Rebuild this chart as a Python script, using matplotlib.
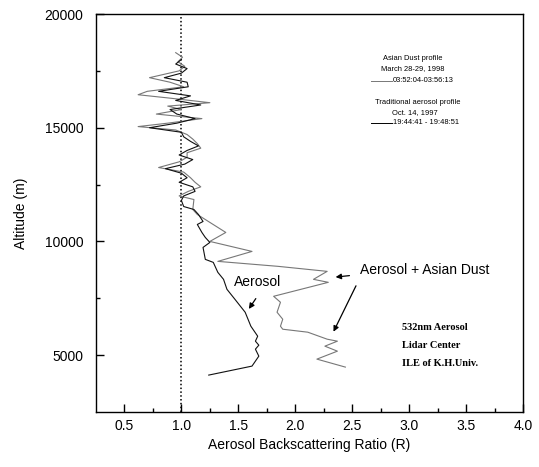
import matplotlib
matplotlib.use("Agg")
import matplotlib.pyplot as plt
from matplotlib.lines import Line2D

# ---- data ----
# Traditional aerosol profile (Oct. 14, 1997) - black
aerosol_alt = [18000, 17800, 17600, 17400, 17200, 17000, 16800, 16600, 16400, 16200,
               16000, 15800, 15600, 15400, 15200, 15000, 14800, 14600, 14400, 14200,
               14000, 13800, 13600, 13400, 13200, 13000, 12800, 12600, 12400, 12200,
               12000, 11800, 11535, 11404, 11184, 10877, 10746, 10395, 10175, 9956,
               9737, 9211, 9079, 8640, 8333, 7895, 7456, 6886, 6272, 5833,
               5614, 5438, 5263, 4956, 4518, 4123]
aerosol_r = [1.00, 0.95, 1.05, 1.00, 0.85, 1.05, 1.06, 0.80, 1.08, 0.95,
             1.17, 0.90, 0.96, 1.12, 0.96, 0.72, 1.00, 1.02, 1.08, 1.15,
             1.05, 0.98, 1.10, 1.03, 0.86, 1.00, 1.05, 0.98, 1.10, 1.12,
             1.02, 1.00, 1.02, 1.11, 1.15, 1.19, 1.14, 1.18, 1.21, 1.25,
             1.19, 1.21, 1.28, 1.32, 1.37, 1.40, 1.47, 1.56, 1.61, 1.67,
             1.65, 1.68, 1.65, 1.68, 1.62, 1.24]

# Asian dust profile (March 28-29, 1998) - gray
dust_alt = [18300, 18100, 17900, 17700, 17500, 17200, 17000, 16800, 16600, 16450,
            16300, 16100, 15950, 15800, 15600, 15400, 15200, 15050, 14900, 14700,
            14500, 14300, 14100, 13900, 13700, 13500, 13250, 13050, 12800, 12600,
            12400, 12200, 12000, 11842, 11404, 11184, 10395, 10000, 9561, 9123,
            8904, 8684, 8333, 8202, 7588, 7325, 6886, 6579, 6272, 6140,
            6009, 5702, 5614, 5395, 5175, 4825, 4474]
dust_r = [0.95, 1.01, 0.97, 1.03, 0.98, 0.72, 0.90, 1.02, 0.70, 0.62,
          0.90, 1.25, 0.88, 1.00, 0.78, 1.18, 0.88, 0.62, 0.95, 1.05,
          1.10, 1.14, 1.17, 1.05, 1.05, 0.98, 0.80, 1.02, 1.08, 1.12,
          1.17, 1.06, 0.98, 1.11, 1.10, 1.14, 1.39, 1.25, 1.62, 1.32,
          1.85, 2.28, 2.16, 2.29, 1.81, 1.87, 1.84, 1.89, 1.87, 1.89,
          2.11, 2.28, 2.37, 2.26, 2.37, 2.19, 2.44]

x_major = [0.5, 1.0, 1.5, 2.0, 2.5, 3.0, 3.5, 4.0]
x_minor = [0.75, 1.25, 1.75, 2.25, 2.75, 3.25, 3.75]
y_major = [5000, 10000, 15000, 20000]
y_minor = [7500, 12500, 17500]

W, H = 539, 467
fig = plt.figure(figsize=(W / 100, H / 100), dpi=100)
ax = fig.add_axes([96 / W, (H - 412) / H, (523 - 96) / W, (412 - 14) / H])

ax.axvline(1.0, color="black", linestyle=(0, (1, 1.5)), linewidth=1.1)
ax.plot(dust_r, dust_alt, color="#777777", linewidth=0.8)
ax.plot(aerosol_r, aerosol_alt, color="#111111", linewidth=0.8)

ax.set_xlim(0.25, 4.0)
ax.set_ylim(2500, 20000)
ax.set_xticks(x_major)
ax.set_xticks(x_minor, minor=True)
ax.set_yticks(y_major)
ax.set_yticks(y_minor, minor=True)
ax.set_xticklabels([f"{v:.1f}" for v in x_major])
ax.set_yticklabels([str(v) for v in y_major])

fam = ["Liberation Sans", "DejaVu Sans"]
ax.tick_params(which="major", direction="in", length=6, width=1, labelsize=10)
ax.tick_params(which="minor", direction="in", length=3, width=1)
ax.tick_params(axis="y", pad=9)
ax.tick_params(axis="x", pad=5)
for lab in ax.get_xticklabels() + ax.get_yticklabels():
    lab.set_family(fam)
for s in ax.spines.values():
    s.set_linewidth(1.0)

ax.set_xlabel("Aerosol Backscattering Ratio (R)", fontsize=10, family=fam, labelpad=4)
ax.set_ylabel("Altitude (m)", fontsize=10, family=fam, labelpad=12)

# annotations
ax.text(1.667, 8202, "Aerosol", fontsize=10, family=fam, ha="center", va="center")
ax.annotate("", xy=(1.579, 6930), xytext=(1.667, 7588),
            arrowprops=dict(arrowstyle="-|>", color="black", lw=0.9, mutation_scale=8))
ax.text(2.57, 8728, "Aerosol + Asian Dust", fontsize=10, family=fam, ha="left", va="center")
ax.annotate("", xy=(2.33, 8421), xytext=(2.50, 8509),
            arrowprops=dict(arrowstyle="-|>", color="black", lw=0.9, mutation_scale=8))
ax.annotate("", xy=(2.325, 5921), xytext=(2.544, 8158),
            arrowprops=dict(arrowstyle="-|>", color="black", lw=0.9, mutation_scale=8))

def ft(x, y, s, **kw):
    fig.text(x / W, 1 - y / H, s, **kw)

lf = dict(fontsize=5.4, family=fam, va="center")
ft(383, 58, "Asian Dust profile", ha="left", **lf)
ft(381, 69, "March 28-29, 1998", ha="left", **lf)
ft(393, 81, "03:52:04-03:56:13", ha="left", **lf)
ft(375, 102, "Traditional aerosol profile", ha="left", **lf)
ft(392, 113, "Oct. 14, 1997", ha="left", **lf)
ft(393, 123, "19:44:41 - 19:48:51", ha="left", **lf)
fig.add_artist(Line2D([371 / W, 392 / W], [1 - 81 / H, 1 - 81 / H], color="#777777", lw=0.7))
fig.add_artist(Line2D([371 / W, 392 / W], [1 - 123 / H, 1 - 123 / H], color="black", lw=0.7))

sf = dict(fontsize=7.5, family=["Liberation Serif", "DejaVu Serif"], weight="bold",
          va="center", ha="left")
ft(402, 328, "532nm Aerosol", **sf)
ft(402, 346, "Lidar Center", **sf)
ft(402, 364, "ILE of K.H.Univ.", **sf)

fig.savefig("out.png", dpi=100)
